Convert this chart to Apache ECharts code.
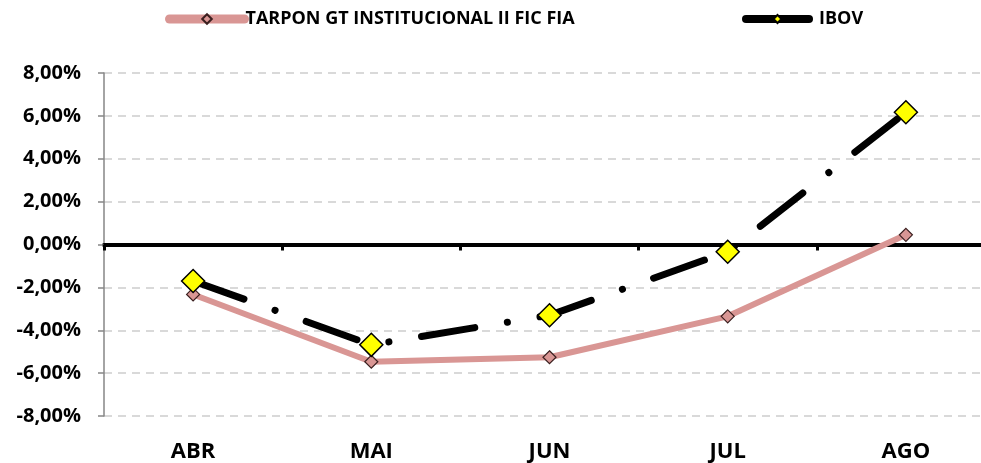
<!DOCTYPE html>
<html>
<head>
<meta charset="utf-8">
<script src="https://cdn.jsdelivr.net/npm/echarts@6/dist/echarts.min.js"></script>
<style>
  html, body { margin: 0; padding: 0; background: #fff; overflow: hidden; }
  /* the plot area runs a little past the right edge of the window */
  #chart { width: 995px; height: 463px; }
</style>
</head>
<body>
<div id="chart"></div>
<script>
// Monthly returns (%)
const months = ['ABR', 'MAI', 'JUN', 'JUL', 'AGO'];
const fundName = 'TARPON GT INSTITUCIONAL II FIC FIA';
const indexName = 'IBOV';
const fundReturns = [-2.33, -5.47, -5.26, -3.35, 0.45];
const indexReturns = [-1.70, -4.68, -3.30, -0.34, 6.17];
const yTicks = { min: -8, max: 8, step: 2 };

const FONT = 'Open Sans';
const pink = '#d99694';

function pct(v) {
  return v.toFixed(2).replace('.', ',') + '%';
}

const chart = echarts.init(document.getElementById('chart'), null, { renderer: 'canvas' });

chart.setOption({
  animation: false,
  backgroundColor: '#ffffff',
  grid: { left: 104, right: 0, top: 73, bottom: 46, containLabel: false },
  legend: [
    {
      data: [fundName],
      left: 165, top: 10, padding: 0,
      itemWidth: 75, itemHeight: 12,
      textStyle: { fontFamily: FONT, fontWeight: 'bold', fontSize: 18, color: '#000', padding: [0, 0, 0, -4] },
      lineStyle: { width: 9, cap: 'round' }
    },
    {
      data: [indexName],
      left: 742, top: 10, padding: 0,
      itemWidth: 63, itemHeight: 10,
      textStyle: { fontFamily: FONT, fontWeight: 'bold', fontSize: 18, color: '#000', padding: [0, 0, 0, 5] },
      lineStyle: { width: 8, type: 'solid', cap: 'round' }
    }
  ],
  xAxis: [
    {
      type: 'category',
      data: months,
      boundaryGap: true,
      position: 'bottom',
      axisLine: { onZero: true, lineStyle: { color: '#000', width: 4 } },
      axisTick: { show: true, length: 6, lineStyle: { color: '#000', width: 3 } },
      axisLabel: { show: false },
      splitLine: { show: false }
    },
    {
      type: 'category',
      data: months,
      boundaryGap: true,
      position: 'bottom',
      axisLine: { show: false, onZero: false },
      axisTick: { show: false },
      axisLabel: {
        margin: 25,
        fontFamily: FONT, fontWeight: 'bold', fontSize: 22, color: '#000'
      },
      splitLine: { show: false }
    }
  ],
  yAxis: {
    type: 'value',
    min: yTicks.min, max: yTicks.max, interval: yTicks.step,
    axisLine: { show: true, lineStyle: { color: '#868686', width: 1.5 } },
    axisTick: { show: true, length: 6, lineStyle: { color: '#868686', width: 1.5 } },
    axisLabel: {
      formatter: pct,
      margin: 23,
      fontFamily: FONT, fontWeight: 'bold', fontSize: 20, color: '#000'
    },
    splitLine: {
      show: true,
      lineStyle: { color: '#d9d9d9', width: 2, type: [8, 6] }
    }
  },
  series: [
    {
      name: fundName,
      type: 'line',
      data: fundReturns,
      symbol: 'diamond',
      symbolSize: 13,
      lineStyle: { color: pink, width: 6, cap: 'round', join: 'round' },
      itemStyle: { color: pink, borderColor: '#3a1f1f', borderWidth: 1.2 },
      z: 2
    },
    {
      name: indexName,
      type: 'line',
      data: indexReturns,
      symbol: 'diamond',
      symbolSize: 23,
      lineStyle: { color: '#000', width: 7, type: [54, 33, 0.1, 33], cap: 'round', join: 'round' },
      itemStyle: { color: '#ffff00', borderColor: '#000', borderWidth: 1.5 },
      z: 3
    }
  ]
});
</script>
</body>
</html>
